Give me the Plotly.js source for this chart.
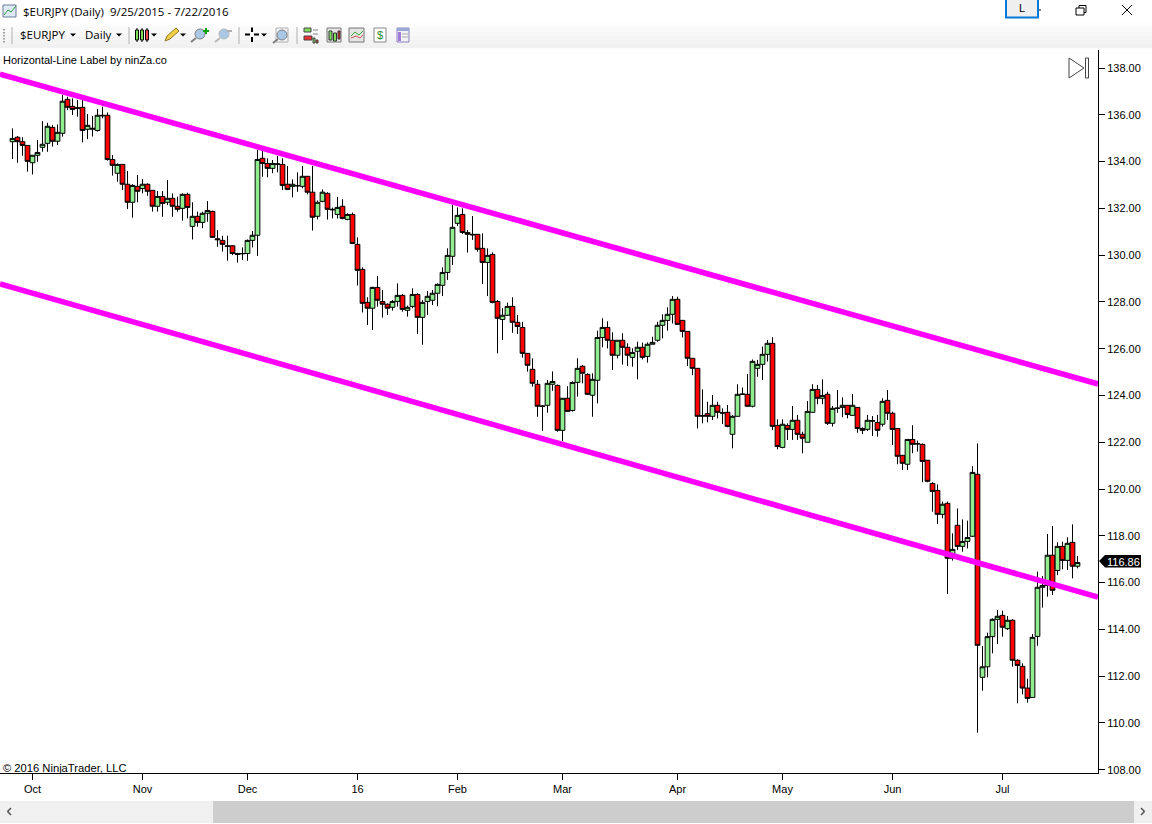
<!DOCTYPE html>
<html>
<head>
<meta charset="utf-8">
<script src="https://cdn.plot.ly/plotly-3.0.1.min.js"></script>
<style>html,body{margin:0;padding:0;background:#fff;overflow:hidden}#chart{width:1152px;height:824px}</style>
</head>
<body>
<div id="chart"></div>
<script>
const openPrices = [
134.85,135.04,134.85,134.69,133.95,134.27,134.61,134.78,135.46,134.87,
135.21,136.66,136.36,136.30,136.32,135.38,135.38,135.33,135.98,135.98,
134.09,133.50,133.88,133.03,132.26,132.94,132.85,133.03,132.77,132.09,
132.51,132.26,132.43,132.09,132.00,132.60,131.23,131.66,131.40,131.79,
131.87,130.70,130.63,130.40,130.40,130.07,130.07,130.07,130.63,130.85,
134.14,133.92,133.71,133.88,133.88,133.03,132.94,132.96,132.94,133.37,
132.69,131.66,132.30,132.64,131.96,131.74,132.09,131.53,131.74,130.46,
129.39,127.98,127.73,128.62,128.02,127.90,127.77,128.02,128.28,127.64,
127.81,128.32,127.34,128.02,128.07,128.37,128.71,129.26,129.95,131.36,
131.74,130.97,130.89,130.89,130.29,129.69,130.03,128.02,127.25,127.43,
127.81,127.13,126.91,125.80,125.12,124.48,123.55,123.58,124.48,124.43,
122.51,123.88,123.36,124.56,125.25,124.90,124.01,124.65,126.48,126.91,
126.36,125.72,126.36,126.06,125.63,125.89,126.06,125.67,126.19,126.36,
127.00,127.21,127.47,128.11,127.21,126.74,125.59,125.16,123.14,123.22,
123.11,123.58,123.26,123.28,122.34,123.11,124.06,124.05,123.54,125.16,
125.33,125.76,126.23,122.72,121.78,122.72,122.55,122.94,122.34,122.00,
123.28,124.26,123.88,124.05,122.81,123.45,123.49,123.58,123.15,123.49,
122.59,122.55,122.92,122.85,122.77,123.79,123.24,122.59,121.44,121.06,
122.12,121.94,121.91,121.23,120.24,119.94,118.92,119.39,117.04,118.45,
117.55,117.76,117.98,120.63,111.95,112.40,113.69,114.43,114.60,114.03,
114.39,112.68,112.42,111.49,111.09,113.70,115.80,115.88,117.17,116.52,
117.55,116.95,117.72,116.70];
const highPrices = [
135.42,135.09,135.04,134.69,134.27,134.92,135.73,135.66,135.56,135.59,
136.85,136.77,136.70,136.63,136.63,136.03,135.95,136.25,136.35,136.10,
134.28,133.92,133.88,133.60,133.03,133.43,133.25,133.07,132.77,132.74,
132.74,133.21,132.64,132.50,132.64,132.67,132.26,131.86,131.86,132.31,
131.90,131.07,130.83,130.83,130.43,130.10,130.33,130.67,131.03,134.49,
134.45,134.14,134.07,134.24,134.14,133.81,133.24,133.54,133.81,133.37,
133.81,132.34,132.81,132.69,132.03,132.49,132.39,131.79,131.82,130.76,
129.48,128.20,128.65,129.11,128.51,127.94,128.08,128.79,128.34,127.84,
128.58,128.37,128.08,128.47,128.51,128.79,129.48,130.29,132.14,132.04,
132.00,131.07,131.67,130.89,130.93,130.29,130.12,128.08,127.73,127.97,
128.20,127.44,127.15,125.80,125.59,124.66,123.59,124.66,125.03,124.47,
123.88,124.40,124.60,125.59,125.30,124.95,124.95,126.77,127.30,127.17,
126.70,126.36,126.66,126.23,126.02,126.30,126.26,126.27,126.51,127.15,
127.47,127.77,128.25,128.22,127.23,126.74,125.59,125.16,124.26,123.73,
124.02,123.73,123.45,123.59,123.16,124.48,124.34,124.92,125.54,125.52,
126.09,126.37,126.49,122.98,122.98,122.81,123.55,123.17,122.45,123.76,
124.48,124.45,124.69,124.16,123.55,124.23,123.92,123.59,124.06,123.49,
122.64,123.17,123.12,123.17,123.88,124.23,123.31,122.59,121.46,122.12,
122.73,122.07,121.95,121.24,120.29,120.20,119.46,119.46,118.11,119.17,
118.70,118.65,120.98,121.95,113.29,113.86,114.47,114.83,114.80,114.57,
114.43,112.72,112.55,111.89,113.80,116.47,116.28,118.08,118.42,117.72,
117.75,117.94,118.49,117.14];
const lowPrices = [
134.11,133.95,134.25,133.57,133.45,133.99,134.42,134.42,134.64,134.71,
135.07,136.20,135.99,135.92,134.82,134.96,135.07,135.28,135.85,134.04,
133.40,133.14,132.78,131.97,131.60,132.26,132.64,132.54,131.86,131.86,
131.64,132.14,131.64,131.86,131.47,131.57,130.67,131.22,131.15,131.43,
130.75,130.36,130.15,129.76,130.00,129.68,129.79,129.76,130.33,129.97,
133.35,133.33,133.50,133.54,132.78,132.78,132.47,132.71,132.86,132.60,
131.05,131.53,132.26,131.52,131.57,131.57,131.53,131.49,130.47,128.70,
127.55,127.01,126.80,127.80,127.33,127.44,127.63,127.80,127.58,127.37,
127.73,126.63,126.17,127.44,127.87,127.82,128.25,128.94,129.58,131.25,
130.90,130.11,130.65,130.15,128.77,128.25,127.94,125.80,126.37,127.40,
126.68,126.63,125.62,125.02,124.38,123.09,122.49,123.26,124.20,122.45,
122.05,123.29,123.31,123.95,124.52,124.02,123.09,123.66,126.06,126.01,
125.09,125.59,125.32,125.26,125.23,124.69,125.54,125.40,126.19,126.30,
126.44,126.77,127.08,127.03,126.48,125.26,124.87,122.59,122.81,122.85,
122.95,123.02,122.78,122.64,121.74,123.09,124.02,123.52,123.49,124.80,
124.66,125.45,122.52,121.70,121.74,122.10,122.10,122.10,121.53,122.00,
123.28,123.62,123.63,122.74,122.67,123.26,123.07,123.02,123.14,122.41,
122.35,122.48,122.27,122.24,122.67,122.95,121.88,121.06,120.81,120.81,
121.53,121.60,120.29,120.29,119.03,118.50,118.75,115.51,116.94,117.39,
117.32,117.46,117.96,109.58,111.38,111.95,112.98,113.38,113.69,113.97,
112.41,110.84,111.22,110.87,111.09,113.30,114.93,115.40,115.47,116.32,
116.57,116.54,116.18,116.61];
const closePrices = [
134.99,134.85,134.69,134.01,134.27,134.39,134.74,135.51,134.87,135.25,
136.58,136.32,136.23,136.28,135.33,135.55,135.42,135.98,135.96,134.09,
133.84,133.88,133.03,132.26,132.98,132.73,133.03,132.73,132.09,132.51,
132.21,132.43,132.09,131.96,132.60,132.04,131.66,131.40,131.79,131.91,
130.76,130.66,130.46,130.38,130.07,130.03,130.06,130.63,130.85,134.09,
133.92,133.71,133.92,133.90,132.98,132.81,133.03,132.97,133.37,132.69,
131.62,132.26,132.69,131.96,131.94,132.04,131.57,131.74,130.50,129.35,
127.94,127.73,128.62,128.07,127.90,127.73,128.02,128.28,127.68,127.77,
128.32,127.34,127.98,128.24,128.37,128.75,129.26,129.99,131.19,131.70,
130.97,130.89,130.87,130.25,129.69,129.99,127.98,127.30,127.43,127.81,
127.13,126.95,125.80,125.29,124.52,123.54,123.54,124.52,124.60,122.51,
123.88,123.32,124.56,125.16,124.95,124.05,124.69,126.48,126.91,126.36,
125.72,126.36,126.06,125.72,125.84,126.06,125.63,126.19,126.27,127.00,
127.21,127.47,128.11,127.04,126.74,125.59,125.16,123.11,123.12,123.11,
123.58,123.28,123.25,122.68,123.11,124.05,124.05,123.54,125.46,125.33,
125.76,126.23,122.68,121.82,122.77,122.55,122.94,122.34,122.17,123.32,
124.26,123.88,124.00,122.81,123.45,123.46,123.58,123.19,123.58,122.59,
122.51,122.94,122.91,122.51,123.75,123.24,122.55,121.40,121.10,122.12,
121.91,121.93,121.18,120.33,119.90,118.92,119.35,117.04,117.42,117.55,
117.76,117.93,120.71,113.32,112.40,113.69,114.43,114.56,114.09,114.39,
112.68,112.46,111.49,111.05,113.66,115.80,115.88,117.17,115.67,117.55,
116.95,117.68,116.70,116.86];

const tickBars = [4, 26, 47, 69, 89, 110, 133, 154, 176, 198];
const tickLabels = ['Oct','Nov','Dec','16','Feb','Mar','Apr','May','Jun','Jul'];
const channelBars = [-2.5, 217.1];
const upperChannel = [137.74, 124.49];
const lowerChannel = [128.77, 115.38];
const lastPrice = 116.86;

const barIndex = openPrices.map((_, i) => i);
const FONT = 'Liberation Sans, Arial, sans-serif';
const UI_FONT = 'Open Sans, Noto Sans, sans-serif';

const traces = [
  {type:'candlestick', x:barIndex, open:openPrices, high:highPrices, low:lowPrices, close:closePrices,
   increasing:{line:{color:'#000',width:1}, fillcolor:'#90EE90'},
   decreasing:{line:{color:'#000',width:1}, fillcolor:'#FF0000'},
   whiskerwidth:0, showlegend:false, hoverinfo:'skip'},
  {type:'scatter', mode:'lines', x:channelBars, y:upperChannel, line:{color:'#FF00FF',width:5.6}, showlegend:false, hoverinfo:'skip'},
  {type:'scatter', mode:'lines', x:channelBars, y:lowerChannel, line:{color:'#FF00FF',width:5.6}, showlegend:false, hoverinfo:'skip'}
];

/* window chrome, in page pixels converted to paper fractions */
const PX = p => p / 1098, PY = p => (773 - p) / 723;
const shapes = [], notes = [];
function rect(x0,y0,x1,y1,fill,line,lw){
  shapes.push({type:'rect',xref:'paper',yref:'paper',x0:PX(x0),x1:PX(x1),y0:PY(y0),y1:PY(y1),
    fillcolor:fill||'rgba(0,0,0,0)',line:{color:line||'rgba(0,0,0,0)',width:line?(lw||1):0}});
}
function seg(x0,y0,x1,y1,color,lw){
  shapes.push({type:'line',xref:'paper',yref:'paper',x0:PX(x0),x1:PX(x1),y0:PY(y0),y1:PY(y1),line:{color:color||'#000',width:lw||1}});
}
function poly(pts,fill,line,lw){
  const d = pts.map((p,i)=>(i?'L':'M')+PX(p[0])+','+PY(p[1])).join(' ')+' Z';
  shapes.push({type:'path',xref:'paper',yref:'paper',path:d,fillcolor:fill||'rgba(0,0,0,0)',line:{color:line||'rgba(0,0,0,0)',width:line?(lw||1):0}});
}
function text(x,y,s,size,color,anchor,family){
  notes.push({xref:'paper',yref:'paper',x:PX(x),y:PY(y),xanchor:anchor||'left',yanchor:'middle',text:s,showarrow:false,
    font:{family:family||FONT,size:size||11,color:color||'#000'},borderpad:0,borderwidth:0});
}
function caret(x,y){poly([[x-3,y-1.5],[x+3,y-1.5],[x,y+1.5]],'#000');}
function lens(x,y,c){
  shapes.push({type:'circle',xref:'paper',yref:'paper',x0:PX(x-5),x1:PX(x+5),y0:PY(y-5),y1:PY(y+5),fillcolor:'#a9c8e8',line:{color:c,width:1}});
  seg(x-4,y+4,x-9,y+8,c,2);
}

// title bar
rect(3,5,16,17,'#dfeaf6','#6a7f99');
shapes.push({type:'path',xref:'paper',yref:'paper',path:`M${PX(4)},${PY(15)} L${PX(8)},${PY(10)} L${PX(11)},${PY(12)} L${PX(16)},${PY(6)}`,line:{color:'#2d9c3a',width:1}});
text(23,11.5,'$EURJPY (Daily)\u00a0\u00a09/25/2015 - 7/22/2016',11.5,'#000','left',UI_FONT);
rect(1006,-1,1038,17.5,'#efefef','#0078d7',2);
text(1022,8,'L',11,'#000','center');
seg(1039,10,1041,10,'#000',1);
rect(1076,8,1084,15,'#fff','#000',1);
seg(1079,8,1079,5.5,'#000',1); seg(1079,5.5,1086,5.5,'#000',1); seg(1086,5.5,1086,12.5,'#000',1); seg(1086,12.5,1084,12.5,'#000',1);
seg(1122,5,1132,15,'#000',1); seg(1132,5,1122,15,'#000',1);

// toolbar
const bands = ['#fdfdfd','#fafafa','#f8f8f8','#f5f5f5','#f3f3f3','#f1f1f1'];
bands.forEach((c,i)=>rect(0,23+i*4.2,1152,23+(i+1)*4.2,c));
[29,32,35,38,41].forEach(y=>rect(3,y,5,y+1.5,'#a0a0a0'));
[12,129,239,297].forEach(x=>seg(x,27,x,44,'#b0b0b0',1));
text(20,34.5,'$EURJPY',11.5,'#000','left',UI_FONT); caret(73,35);
text(85,34.5,'Daily',11.5,'#000','left',UI_FONT); caret(119,35);
// candle icon
[[137,'#7ee05a'],[142,'#7ee05a'],[147,'#ef4b4b']].forEach(([x,c])=>{seg(x,28,x,42,'#000',1);rect(x-1.5,30,x+1.5,40,c,'#000',1);});
caret(154,35);
// pencil
poly([[165,41],[167,36],[176,28],[179,31],[170,39]],'#f3cf45','#8a7a2a');
caret(183,35);
lens(200,34,'#7f7f7f'); seg(203,31,209,31,'#10a010',2); seg(206,28,206,34,'#10a010',2);
lens(224,34,'#b8b8b8'); seg(227,31,232,31,'#b0b0b0',2);
// crosshair
seg(245,34.5,250,34.5,'#000',2); seg(254,34.5,259,34.5,'#000',2); seg(252,27.5,252,32,'#000',2); seg(252,37,252,42,'#000',2);
caret(264,35);
rect(276,28,288,42,'#f6f6f6','#b0b0b0'); lens(282,35,'#7f7f7f');
// right toolbar icons
rect(304,28,311,32,'#7ee05a','#444'); rect(304,36,312,40,'#ef3030','#444'); seg(313,30,318,30,'#888',1);seg(313,34,318,34,'#888',1);
rect(313,38,315,43,'#7ee05a','#444'); rect(316,40,318,43,'#ef3030','#444');
rect(327,28,341,42,'#e8e8e8','#777'); rect(329,31,332,40,'#7ee05a','#333'); rect(333.5,33,336.5,41,'#7ee05a','#333'); rect(338,31,340,39,'#ef3030','#333');
rect(349,28,364,42,'#e4e4e4','#777');
shapes.push({type:'path',xref:'paper',yref:'paper',path:`M${PX(351)},${PY(36)} L${PX(355)},${PY(32)} L${PX(359)},${PY(35)} L${PX(363)},${PY(31)}`,line:{color:'#3aa83a',width:1}});
shapes.push({type:'path',xref:'paper',yref:'paper',path:`M${PX(351)},${PY(38)} L${PX(356)},${PY(36)} L${PX(360)},${PY(38)} L${PX(363)},${PY(35)}`,line:{color:'#d05050',width:1}});
rect(374,28,386,42,'#fff','#888'); text(380,35,'$',11,'#2a8a2a','center');
rect(397,28,409,42,'#f2f2f2','#8a7fc0'); rect(397,28,409,31,'#9aa8d8'); rect(398,32,401,41,'#a07ad8'); seg(402,34,408,34,'#aaa',1); seg(402,37,408,37,'#aaa',1);

// chart labels
text(3,60,'Horizontal-Line Label by ninZa.co',11);
text(3,767.5,'\u00a9 2016 NinjaTrader, LLC',11.2);
poly([[1069,58],[1069,78],[1084,68]],'#fff','#444');
rect(1085.5,58,1088.5,78,'#fff','#444');

// last price marker
poly([[1099,561],[1105,555],[1141,555],[1141,567.5],[1105,567.5]],'#000');
text(1140,561.5,lastPrice.toFixed(2),11,'#fff','right');

// scrollbar
rect(0,801,1152,823,'#f0f0f0');
rect(213,801,1134,823,'#cdcdcd');
seg(11,808,7.5,811.5,'#555',1.6); seg(7.5,811.5,11,815,'#555',1.6);
seg(1141,808,1144.5,811.5,'#555',1.6); seg(1144.5,811.5,1141,815,'#555',1.6);

const layout = {
  width:1152, height:824,
  margin:{l:0,r:54,t:50,b:51,pad:0},
  paper_bgcolor:'#fff', plot_bgcolor:'#fff',
  showlegend:false, boxgap:0.06, boxgroupgap:0,
  font:{family:FONT,size:11,color:'#000'},
  xaxis:{type:'linear',range:[-2.5,217.1],rangeslider:{visible:false},
    tickmode:'array',tickvals:tickBars,ticktext:tickLabels,ticks:'outside',ticklen:6,tickwidth:1,tickcolor:'#000',
    showgrid:false,zeroline:false,showline:true,linecolor:'#000',linewidth:1,tickfont:{family:FONT,size:11,color:'#000'}},
  yaxis:{side:'right',range:[107.86,138.77],dtick:2,tick0:108,tickformat:'.2f',ticks:'outside',ticklen:6,tickwidth:1,tickcolor:'#000',
    showgrid:false,zeroline:false,showline:true,linecolor:'#000',linewidth:1,tickfont:{family:FONT,size:11,color:'#000'}},
  shapes:shapes, annotations:notes
};
Plotly.newPlot('chart',traces,layout,{displayModeBar:false,staticPlot:true});
</script>
</body>
</html>
